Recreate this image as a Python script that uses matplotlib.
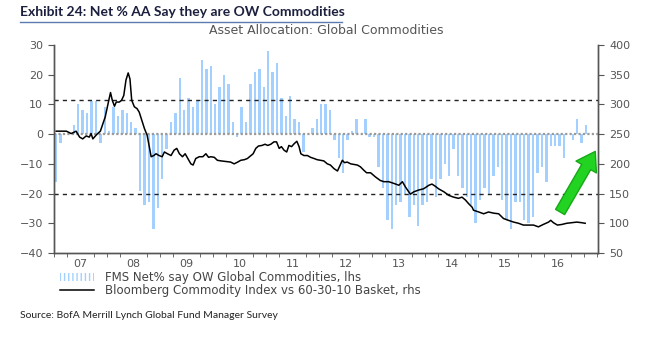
import numpy as np
import matplotlib
matplotlib.use("Agg")
import matplotlib.pyplot as plt
from matplotlib.lines import Line2D
from matplotlib.patches import Rectangle

nan = np.nan

# FMS net % saying overweight commodities, monthly from Jan 2007 (lhs)
fms_net = [-16, -3, nan, nan, 3, 10, 8, 7, 11, 11,
           -3, 9, 1, 9, 6, 8, 7, 4, 2, -19,
           -24, -23, -32, -25, -15, -5, 4, 7, 19, 8,
           12, 9, 11, 25, 22, 23, 10, 16, 20, 17,
           4, -1, 9, 4, 17, 21, 22, 16, 28, 21,
           24, 12, 6, 13, 5, 4, -6, nan, 2, 5,
           10, 10, 8, -2, -8, -13, -2, 1, 5, nan,
           5, -1, -1, -11, -18, -29, -32, -24, -23, -20,
           -28, -24, -31, -24, -23, -15, -21, -15, -10, -14,
           -5, -14, -18, -21, -24, -30, -22, -18, -20, -14,
           -11, -22, -29, -32, -23, -23, -29, -30, -28, -13,
           -11, -16, -4, -4, -4, -8, nan, -2, 5, -3,
           3]

# Bloomberg Commodity Index vs 60-30-10 basket (rhs), months since Jan 2007
bcom_month = [0, 1.1, 2.3, 3.4, 4.5, 5.3, 6.0, 6.8, 7.5, 7.9, 8.3, 9.0, 9.4, 10.0,
              10.6, 11.1, 11.5, 12.0, 12.3, 12.7, 13.2, 13.6, 14.3, 14.8, 15.3,
              15.8, 16.3, 16.7, 17.1, 17.7, 18.3, 18.8, 19.4, 20.0, 20.6, 21.1,
              21.5, 22.1, 22.6, 23.3, 24.0, 24.5, 25.2, 26.0, 26.7, 27.3, 27.9,
              28.6, 29.2, 29.8, 30.5, 31.0, 31.6, 32.4, 33.2, 33.9, 34.5, 35.0,
              35.8, 36.5, 37.3, 38.4, 39.5, 40.3, 41.1, 41.8, 42.6, 43.3, 44.1,
              44.6, 45.2, 45.8, 46.6, 47.3, 47.9, 48.6, 49.3, 49.9, 50.5, 51.0,
              51.6, 52.2, 52.7, 53.3, 53.9, 54.5, 55.0, 55.4, 56.1, 56.9, 57.6,
              58.4, 59.1, 59.9, 60.6, 61.4, 62.1, 62.9, 63.7, 64.2, 64.8, 65.3,
              65.9, 66.7, 67.4, 68.2, 68.9, 69.7, 70.3, 71.2, 72.3, 73.4, 74.2,
              75.3, 76.5, 77.6, 78.4, 79.1, 80.2, 81.0, 82.1, 83.2, 84.4, 85.1,
              85.9, 86.6, 87.8, 88.9, 90.0, 91.1, 91.9, 92.7, 93.4, 94.2, 94.5,
              95.7, 96.8, 97.9, 99.1, 100.2, 101.3, 102.4, 103.6, 104.7, 105.8,
              107.0, 108.1, 109.2, 110.3, 111.5, 112.0, 112.6, 113.5, 114.5,
              115.6, 116.8, 117.9, 119.0, 119.8]
bcom_value = [255, 255, 255, 251, 255, 245, 242, 247, 245, 251, 242, 248, 251, 255,
              268, 279, 293, 310, 320, 307, 297, 304, 304, 307, 315,
              341, 353, 343, 307, 296, 293, 287, 273, 259, 248, 228,
              212, 214, 217, 214, 212, 220, 217, 214, 223, 226, 217,
              212, 217, 209, 200, 198, 209, 212, 212, 217, 211, 212,
              211, 206, 205, 204, 203, 200, 203, 206, 207, 209, 214,
              217, 226, 230, 231, 233, 231, 233, 237, 237, 226, 229,
              223, 220, 231, 229, 234, 238, 229, 217, 214, 214, 211,
              209, 207, 206, 205, 200, 198, 192, 188, 196, 206, 202,
              203, 200, 199, 198, 195, 189, 185, 185, 178, 172, 170,
              170, 167, 164, 170, 161, 149, 153, 156, 158, 164, 166,
              162, 158, 153, 147, 144, 142, 144, 139, 133, 127, 122,
              119, 116, 119, 117, 116, 108, 105, 102, 100, 97,
              97, 97, 94, 98, 102, 105, 101, 97, 98,
              100, 101, 102, 101, 100]

year_labels = ["07", "08", "09", "10", "11", "12", "13", "14", "15", "16"]
upper_band = 11.5
lower_band = -20

W, H = 646, 343
fig = plt.figure(figsize=(W / 100, H / 100), dpi=100)
ax = fig.add_axes([54 / W, 1 - 253 / H, (598 - 54) / W, (253 - 45) / H])
ax2 = ax.twinx()

grey = "#555555"
months = np.arange(len(fms_net))
ax.bar(months, fms_net, width=0.55, color="#a3d0ff", zorder=2)
ax.axhline(0, color="#9a9a9a", lw=1.6, ls=(0, (1, 1)), zorder=3)
ax.axhline(upper_band, color="#222222", lw=1.0, ls=(0, (3, 3)), zorder=3)
ax.axhline(lower_band, color="#222222", lw=1.0, ls=(0, (3, 3)), zorder=3)

ax2.plot(bcom_month, bcom_value, color="black", lw=1.1, zorder=4)

ax.set_xlim(-0.3, 122.7)
ax.set_ylim(-40, 30)
ax2.set_ylim(50, 400)
ax.set_yticks(range(-40, 31, 10))
ax2.set_yticks(range(50, 401, 50))

ax.set_xticks([5.5 + 12 * i for i in range(len(year_labels))])
ax.set_xticklabels(year_labels)
ax.set_xticks(np.arange(-0.5, 123, 3), minor=True)
ax.tick_params(axis="x", which="major", length=0, pad=4)
ax.tick_params(axis="x", which="minor", length=3, color=grey, direction="out")
ax.tick_params(axis="y", length=4, color=grey, direction="out", pad=4)
ax2.tick_params(axis="y", length=4, color=grey, direction="out", pad=4)

for a in (ax, ax2):
    a.spines["top"].set_visible(False)
    for s in ("left", "right", "bottom"):
        a.spines[s].set_color(grey)
        a.spines[s].set_linewidth(1.0)
    for lab in a.get_xticklabels() + a.get_yticklabels():
        lab.set_fontsize(8)
        lab.set_color(grey)
        lab.set_family("DejaVu Sans")

# green arrow pointing at the latest reading
ax.annotate("", xy=(122.4, -5.0), xytext=(113.8, -27.0),
            arrowprops=dict(arrowstyle="simple,head_width=1.7,head_length=1.3,tail_width=0.75",
                            fc="#22d322", ec="#17a817", lw=1.0, joinstyle="round",
                            capstyle="round"),
            annotation_clip=False, zorder=6)

# titles
fig.text(20 / W, 1 - 12 / H, "Exhibit 24: Net % AA Say they are OW Commodities",
         fontsize=10, fontweight="bold", color="#1c1f3d", family="Lato",
         ha="left", va="center")
fig.add_artist(Line2D([20 / W, 342 / W], [1 - 22 / H, 1 - 22 / H],
                      color="#5b7bb0", lw=1.0))
fig.text(326 / W, 1 - 31 / H, "Asset Allocation: Global Commodities",
         fontsize=9, color="#555555", ha="center", va="center")
fig.text(20 / W, 1 - 315 / H, "Source: BofA Merrill Lynch Global Fund Manager Survey",
         fontsize=7.5, color="#222222", family="Lato", ha="left", va="center")

# legend
bar_handle = Rectangle((0, 0), 1, 1, facecolor="white", edgecolor="#a3d0ff",
                       hatch="||||", lw=0)
line_handle = Line2D([], [], color="black", lw=1.1)
leg = fig.legend([bar_handle, line_handle],
                 ["FMS Net% say OW Global Commodities, lhs",
                  "Bloomberg Commodity Index vs 60-30-10 Basket, rhs"],
                 loc="upper left", bbox_to_anchor=(54 / W, 1 - 265 / H),
                 frameon=False, fontsize=8.5, handlelength=2.9, handleheight=0.7,
                 handletextpad=0.9, labelspacing=0.0, borderpad=0)
for t in leg.get_texts():
    t.set_color("#444444")

fig.savefig("out.png", dpi=100)
